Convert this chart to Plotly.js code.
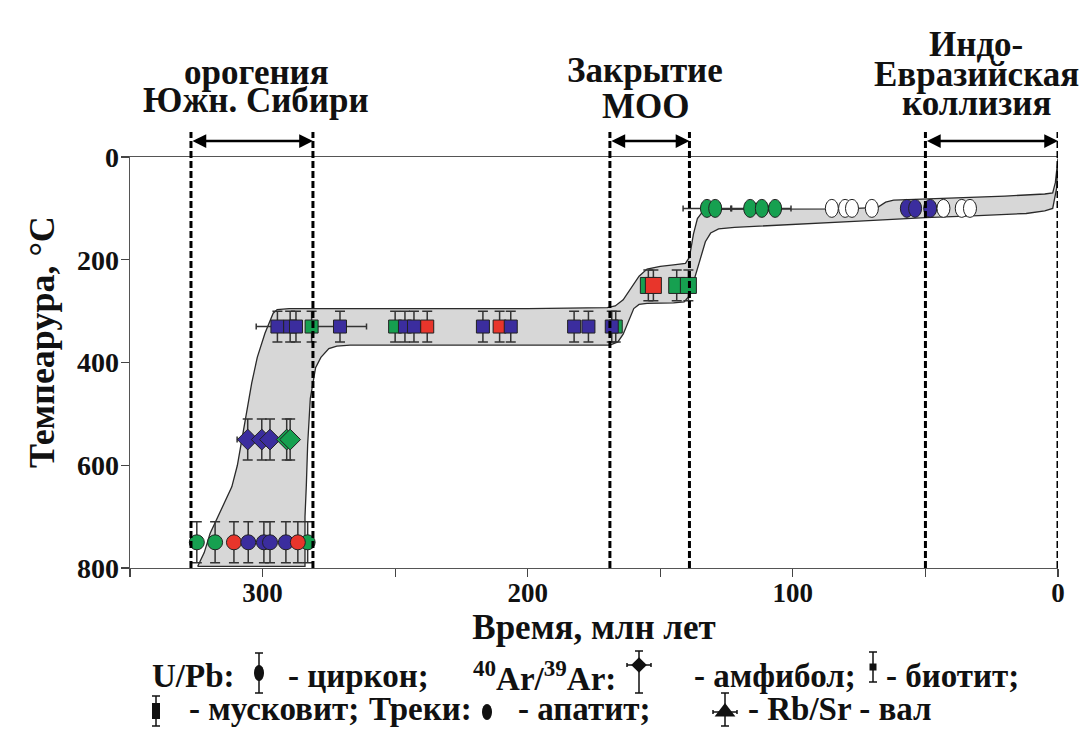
<!DOCTYPE html>
<html><head><meta charset="utf-8">
<script src="https://cdn.plot.ly/plotly-3.0.1.min.js"></script>
<style>html,body{margin:0;padding:0;background:#fff}</style>
</head><body><div id="chart" style="width:1088px;height:736px"></div>
<script>
// ================= DATA =================
const xTickVals = [350, 300, 250, 200, 150, 100, 50, 0];
const xTickText = ['', '300', '', '200', '', '100', '', '0'];
const yTickVals = [0, 200, 400, 600, 800];

// U/Pb zircon (circles)
const zirconAge = [324.8, 317.9, 310.8, 305.4, 299.5, 297.2, 291.2, 283.0, 286.7];
const zirconT   = [750, 750, 750, 750, 750, 750, 750, 750, 750];
const zirconErr = [40, 40, 40, 40, 40, 40, 40, 40, 40];
const zirconSrc = ['G', 'G', 'R', 'B', 'B', 'B', 'B', 'G', 'R'];

// 40Ar/39Ar amphibole (diamonds)
const amphAge  = [305.6, 300.3, 297.2, 290.9, 289.6];
const amphT    = [550, 550, 550, 550, 550];
const amphErr  = [40, 40, 40, 40, 40];
const amphErrX = [4, 0, 0, 0, 0];
const amphSrc  = ['B', 'B', 'B', 'G', 'G'];

// 40Ar/39Ar biotite (small squares)
const bioAge  = [294.4, 289.6, 287.4, 281.5, 270.8, 250.0, 246.3, 242.9, 237.9, 216.9, 210.6, 206.4, 182.5, 177.1, 166.8, 168.3];
const bioT    = [330, 330, 330, 330, 330, 330, 330, 330, 330, 330, 330, 330, 330, 330, 330, 330];
const bioErr  = [30, 30, 30, 30, 30, 30, 30, 30, 30, 30, 30, 30, 30, 30, 30, 30];
const bioErrX = [8, 0, 0, 0, 10, 0, 0, 0, 2, 2, 2, 2, 0, 2, 0, 2];
const bioSrc  = ['B', 'B', 'B', 'G', 'B', 'G', 'B', 'B', 'R', 'B', 'R', 'B', 'B', 'B', 'G', 'B'];

// 40Ar/39Ar muscovite (large squares)
const muscAge = [154.5, 152.6, 143.8, 139.4];
const muscT   = [250, 250, 250, 250];
const muscErr = [30, 30, 30, 30];
const muscSrc = ['G', 'R', 'G', 'G'];

// Fission tracks, apatite (ellipses)
const apaAge  = [132.4, 129.3, 116.1, 111.7, 106.7, 85.3, 80.3, 77.7, 70.2, 57.0, 53.9, 48.2, 43.2, 36.3, 33.2];
const apaT    = [100, 100, 100, 100, 100, 100, 100, 100, 100, 100, 100, 100, 100, 100, 100];
const apaErrX = [9, 0, 7, 0, 6, 0, 0, 0, 0, 0, 0, 0, 0, 0, 0];
const apaSrc  = ['G', 'G', 'G', 'G', 'G', 'W', 'W', 'W', 'W', 'B', 'B', 'B', 'W', 'W', 'W'];

// cooling-path envelope
const bandUpperAge = [324.5, 322, 319.8, 315, 311.6, 309.5, 307.9, 306, 304.1, 302, 299.1, 296, 294.5, 290, 250, 200, 170, 167, 164, 161, 158, 155, 150, 145, 140.5, 139, 137.5, 136, 134, 132, 120, 100, 80, 68, 65, 62, 40, 20, 5, 2, 1, 0];
const bandUpperT   = [797, 770, 733, 680, 642, 600, 551, 500, 440, 390, 343, 304, 297, 295, 295, 295, 293, 290, 278, 255, 232, 218, 213, 210, 207, 195, 150, 120, 106, 102, 102, 102, 101, 98, 88, 84, 80, 76, 72, 70, 50, 3];
const bandLowerAge = [0, 0.5, 2, 5, 12, 30, 50, 75, 100, 122, 128, 131, 133, 135, 137, 139, 141, 145, 155, 158, 160, 162, 164, 166, 169, 200, 250, 267, 272, 275, 278, 280, 282, 283, 283.5, 284, 284];
const bandLowerT   = [3, 60, 100, 105, 110, 114, 118, 125, 131, 137, 140, 148, 165, 200, 240, 270, 282, 284, 285, 287, 295, 320, 345, 360, 366, 366, 366, 366, 368, 373, 390, 410, 470, 560, 640, 700, 797];

// tectonic events (age intervals, Ma)
const eventFrom = [327, 169, 50];
const eventTo   = [281, 139, 0];
const eventLabels = [['орогения', 'Южн. Сибири'], ['Закрытие', 'МОО'], ['Индо-', 'Евразийская', 'коллизия']];

// titles and legend texts
const xTitle = 'Время, млн лет';
const yTitle = 'Темпеарура, °C';
const legendLine1 = ['U/Pb:', '- циркон;', '<sup>40</sup>Ar/<sup>39</sup>Ar:', '- амфибол;', '- биотит;'];
const legendLine2 = ['- мусковит;', 'Треки:', '- апатит;', '- Rb/Sr - вал'];

// ================= STYLE / LAYOUT =================
const W = 1088, H = 736;
const px = v => v / W;
const py = v => 1 - v / H;
const FONT = 'Liberation Serif, Times New Roman, serif';
const INK = '#111111';
const SRC_COLOR = {G: '#16a050', R: '#e8352b', B: '#3b2d9e', W: '#ffffff'};
const cols = arr => arr.map(s => SRC_COLOR[s]);
const EB = '#333333';

function pts(name, age, T, errT, errX, src, symbol, size) {
  const tr = {
    type: 'scatter', mode: 'markers', name: name, x: age, y: T,
    xaxis: 'x', yaxis: 'y', cliponaxis: false,
    marker: {symbol: symbol, size: size, color: cols(src), line: {color: '#222', width: 1}},
    hoverinfo: 'skip'
  };
  if (errT) tr.error_y = {type: 'data', array: errT, visible: true, color: EB, thickness: 1.5, width: 5};
  if (errX) tr.error_x = {type: 'data', array: errX, visible: true, color: EB, thickness: 1.5, width: 3};
  return tr;
}

const band = {
  type: 'scatter', mode: 'lines', name: 'band',
  x: bandUpperAge.concat(bandLowerAge, [bandUpperAge[0]]),
  y: bandUpperT.concat(bandLowerT, [bandUpperT[0]]),
  fill: 'toself', fillcolor: '#d7d7d7',
  line: {color: '#2a2a2a', width: 1.3},
  hoverinfo: 'skip'
};

const traces = [
  band,
  pts('циркон', zirconAge, zirconT, zirconErr, null, zirconSrc, 'circle', 15),
  pts('амфибол', amphAge, amphT, amphErr, amphErrX, amphSrc, 'diamond', 16),
  pts('биотит', bioAge, bioT, bioErr, bioErrX, bioSrc, 'square', 13),
  pts('мусковит', muscAge, muscT, muscErr, null, muscSrc, 'square', 16),
  pts('апатит', apaAge, apaT, null, apaErrX, apaSrc, 'circle', 12)
];

// legend keys (overlay axis in figure pixels)
function key(x, y, symbol, size, eyUp, eyDn, ex) {
  const t = {type: 'scatter', mode: 'markers', x: [x], y: [y], xaxis: 'x2', yaxis: 'y2',
    marker: {symbol: symbol, size: size, color: INK}, hoverinfo: 'skip', showlegend: false, cliponaxis: false};
  if (eyUp || eyDn) t.error_y = {type: 'data', symmetric: false, array: [eyDn], arrayminus: [eyUp], color: INK, thickness: 1.5, width: 4};
  if (ex) t.error_x = {type: 'data', array: [ex], color: INK, thickness: 1.5, width: 2};
  return t;
}
traces.push(
  key(259, 673, 'circle', 9, 20, 20, 0),
  key(639, 665, 'diamond', 12, 14, 28, 12),
  key(873, 667, 'square', 7, 15, 15, 0),
  key(156, 711, 'square', 8, 15, 15, 0),
  key(487, 712, 'circle', 9, 0, 0, 0),
  key(725, 712, 'triangle-up', 18, 19, 14, 12)
);

const shapes = [];
const annotations = [];

// apatite grains drawn as upright ellipses at their data positions
apaAge.forEach((a, i) => shapes.push({
  type: 'circle', xref: 'x', yref: 'y', xsizemode: 'pixel', ysizemode: 'pixel',
  xanchor: a, yanchor: apaT[i], x0: -6.5, x1: 6.5, y0: -9, y1: 9,
  fillcolor: SRC_COLOR[apaSrc[i]], line: {color: '#222', width: 1}, layer: 'above'
}));
// ellipse legend keys (zircon, apatite) and muscovite bar key
[[259, 673, 5, 8], [487, 712, 5, 8]].forEach(k => shapes.push({
  type: 'circle', xref: 'x2', yref: 'y2', xsizemode: 'pixel', ysizemode: 'pixel',
  xanchor: k[0], yanchor: k[1], x0: -k[2], x1: k[2], y0: -k[3], y1: k[3],
  fillcolor: INK, line: {width: 0}, layer: 'above'
}));
shapes.push({
  type: 'rect', xref: 'x2', yref: 'y2', xsizemode: 'pixel', ysizemode: 'pixel',
  xanchor: 156, yanchor: 711, x0: -4, x1: 4, y0: -8, y1: 8,
  fillcolor: INK, line: {width: 0}, layer: 'above'
});

eventFrom.forEach((a, i) => {
  [a, eventTo[i]].forEach(v => shapes.push({
    type: 'line', xref: 'x', yref: 'paper', x0: v, x1: v, y0: py(568), y1: py(132),
    line: {color: '#000', width: 3, dash: '7px,3px'}, layer: 'above'
  }));
  annotations.push({
    xref: 'x', yref: 'paper', x: eventTo[i], y: py(141),
    axref: 'x', ayref: 'pixel', ax: a, ay: 0, text: '',
    showarrow: true, arrowside: 'end+start', arrowhead: 2, startarrowhead: 2,
    arrowsize: 1.1, startarrowsize: 1.1, arrowwidth: 2.5, arrowcolor: '#000',
    standoff: 0, startstandoff: 0
  });
});
const labelX = [256, 645, 976];
const labelY = [[72, 101], [71, 106], [44, 74, 104]];
eventLabels.forEach((lines, i) => lines.forEach((t, j) => annotations.push({
  xref: 'paper', yref: 'paper', x: px(labelX[i]), y: py(labelY[i][j]),
  xanchor: 'center', yanchor: 'middle', showarrow: false, text: t,
  font: {family: FONT, size: 35, color: INK, weight: 'bold'}
})));
const l1x = [150, 286, 471, 692, 884];
const l2x = [187, 367, 516, 746];
legendLine1.forEach((t, i) => annotations.push({
  xref: 'paper', yref: 'paper', x: px(l1x[i]), y: py(676), xanchor: 'left', yanchor: 'middle',
  showarrow: false, text: t, font: {family: FONT, size: 33, color: INK, weight: 'bold'}
}));
legendLine2.forEach((t, i) => annotations.push({
  xref: 'paper', yref: 'paper', x: px(l2x[i]), y: py(709), xanchor: 'left', yanchor: 'middle',
  showarrow: false, text: t, font: {family: FONT, size: 33, color: INK, weight: 'bold'}
}));
// y-axis title (rotated), centred a little above the axis middle as in the original
annotations.push({
  xref: 'paper', yref: 'paper', x: px(42), y: py(342), xanchor: 'center', yanchor: 'middle',
  textangle: -90, showarrow: false, text: yTitle,
  font: {family: FONT, size: 36, color: INK, weight: 'bold'}
});

const layout = {
  width: W, height: H, margin: {l: 0, r: 0, t: 0, b: 0},
  paper_bgcolor: '#ffffff', plot_bgcolor: 'rgba(0,0,0,0)',
  showlegend: false, hovermode: false,
  xaxis: {
    domain: [px(130), px(1058)], range: [350, 0], anchor: 'y',
    tickmode: 'array', tickvals: xTickVals, ticktext: xTickText,
    ticks: 'outside', ticklen: 8, tickwidth: 1.2, tickcolor: '#444', ticklabelstandoff: -8,
    showline: true, linecolor: '#555', linewidth: 1.3, mirror: true,
    showgrid: false, zeroline: false, automargin: false,
    tickfont: {family: FONT, size: 27, color: INK, weight: 'bold'},
    title: {text: xTitle, font: {family: FONT, size: 35, color: INK, weight: 'bold'}, standoff: 0}
  },
  yaxis: {
    domain: [py(568), py(157)], range: [800, 0], anchor: 'x',
    tickmode: 'array', tickvals: yTickVals,
    ticks: 'outside', ticklen: 8, tickwidth: 1.2, tickcolor: '#444', ticklabelstandoff: -4,
    showline: true, linecolor: '#555', linewidth: 1.3, mirror: false,
    showgrid: false, zeroline: false, automargin: false,
    tickfont: {family: FONT, size: 28, color: INK, weight: 'bold'}
  },
  xaxis2: {domain: [0, 1], range: [0, W], anchor: 'y2', visible: false, fixedrange: true},
  yaxis2: {domain: [0, 1], range: [H, 0], anchor: 'x2', visible: false, fixedrange: true},
  shapes: shapes,
  annotations: annotations
};

Plotly.newPlot('chart', traces, layout, {staticPlot: true, displayModeBar: false});
</script>
</body></html>
